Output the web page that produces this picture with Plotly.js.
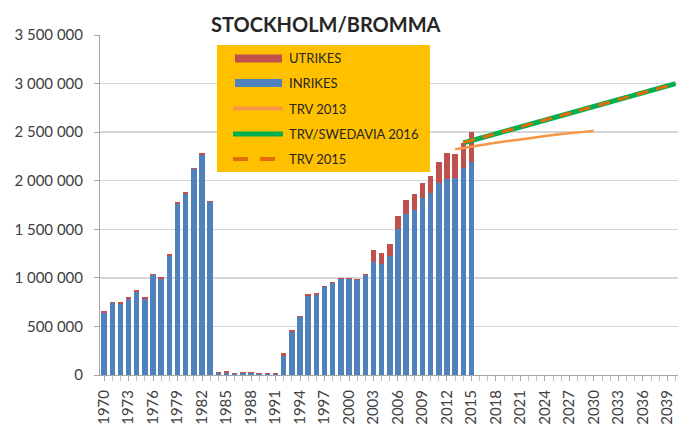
<!DOCTYPE html>
<html>
<head>
<meta charset="utf-8">
<script src="https://cdn.plot.ly/plotly-3.0.1.min.js"></script>
<style>html,body{margin:0;padding:0;background:#fff;}#chart{width:678px;height:426px;}</style>
</head>
<body>
<div id="chart"></div>
<script>
// ---- data ----
var years = [1970,1971,1972,1973,1974,1975,1976,1977,1978,1979,1980,1981,1982,1983,
  1984,1985,1986,1987,1988,1989,1990,1991,
  1992,1993,1994,1995,1996,1997,1998,1999,2000,2001,2002,
  2003,2004,2005,2006,2007,2008,2009,2010,2011,2012,2013,2014,2015];
var inrikes = [642000,742000,736000,787000,859000,787000,1029000,991000,1226000,1760000,1867000,2119000,2267000,1778000,
  20000,23000,11000,20000,20000,14000,14000,14000,
  192000,446000,597000,818000,828000,904000,942000,987000,987000,973000,1025000,
  1168000,1141000,1220000,1506000,1658000,1703000,1817000,1876000,1979000,2013000,2031000,2135000,2193000];
var utrikes = [12000,12000,14000,12000,12000,12000,15000,15000,18000,22000,15000,15000,15000,18000,
  14000,15000,10000,14000,14000,10000,10000,10000,
  30000,15000,12000,12000,12000,12000,12000,12000,12000,12000,15000,
  121000,120000,124000,128000,148000,158000,162000,172000,214000,277000,245000,251000,304000];

var trv2013Years = [2013,2014,2015,2016,2017,2018,2019,2020,2021,2022,2023,2024,2025,2026,2027,2028,2029,2030];
var trv2013 = [2323000,2338000,2350000,2365000,2378000,2390000,2405000,2415000,2425000,2438000,2450000,2460000,2470000,2480000,2490000,2500000,2506000,2513000];

var progYears = [2014,2015,2016,2017,2018,2019,2020,2021,2022,2023,2024,2025,2026,2027,2028,2029,2030,2031,2032,2033,2034,2035,2036,2037,2038,2039,2040];
var swedavia2016 = [2390000,2415000,2440000,2462000,2485000,2508000,2530000,2553000,2576000,2600000,2623000,2647000,2670000,2694000,2717000,2741000,2764000,2788000,2811000,2835000,2858000,2882000,2905000,2929000,2952000,2976000,3000000];
var trv2015 = [2392000,2415000,2440000,2462000,2485000,2508000,2530000,2553000,2576000,2600000,2623000,2647000,2670000,2694000,2717000,2741000,2764000,2788000,2811000,2835000,2858000,2882000,2905000,2929000,2952000,2976000,3000000];

var seriesNames = ["UTRIKES","INRIKES","TRV 2013","TRV/SWEDAVIA 2016","TRV 2015"];
var chartTitle = "STOCKHOLM/BROMMA";

// ---- styles ----
var cRed = "#C0504D", cBlue = "#4F81BD", cTrv13 = "#F79646", cGreen = "#00B050", cTrv15 = "#E46C0A";
var fontFam = "Lato, 'Open Sans', sans-serif";

var traces = [
  {type:"bar", x:years, y:inrikes, name:seriesNames[1], marker:{color:cBlue}, showlegend:false},
  {type:"bar", x:years, y:utrikes, name:seriesNames[0], marker:{color:cRed}, showlegend:false},
  {type:"scatter", mode:"lines", x:trv2013Years, y:trv2013, name:seriesNames[2], line:{color:cTrv13, width:2.5}, showlegend:false},
  {type:"scatter", mode:"lines", x:progYears, y:swedavia2016, name:seriesNames[3], line:{color:cGreen, width:5}, showlegend:false},
  {type:"scatter", mode:"lines", x:progYears, y:trv2015, name:seriesNames[4], line:{color:cTrv15, width:3, dash:"12px,8px"}, showlegend:false}
];

// plot area geometry (px) for the custom legend box
var L = 100, T = 35, W = 578, H = 340;
function px(x){ return (x - L) / W; }
function py(y){ return (T + H - y) / H; }

var rows = [58.5, 83, 108.5, 134, 159];
var shapes = [
  {type:"rect", xref:"paper", yref:"paper", x0:px(217), x1:px(430), y0:py(172), y1:py(45), fillcolor:"#FFC000", line:{width:0}, layer:"above"},
  {type:"line", xref:"paper", yref:"paper", x0:px(235), x1:px(282), y0:py(rows[0]), y1:py(rows[0]), line:{color:cRed, width:8}},
  {type:"line", xref:"paper", yref:"paper", x0:px(235), x1:px(282), y0:py(rows[1]), y1:py(rows[1]), line:{color:cBlue, width:8}},
  {type:"line", xref:"paper", yref:"paper", x0:px(233), x1:px(283), y0:py(rows[2]), y1:py(rows[2]), line:{color:cTrv13, width:4}},
  {type:"line", xref:"paper", yref:"paper", x0:px(233), x1:px(283), y0:py(rows[3]), y1:py(rows[3]), line:{color:cGreen, width:5}},
  {type:"line", xref:"paper", yref:"paper", x0:px(233), x1:px(283), y0:py(rows[4]), y1:py(rows[4]), line:{color:cTrv15, width:4, dash:"15px,12px"}}
];
var annotations = [
  {xref:"paper", yref:"paper", x:px(326), y:py(24), xanchor:"center", yanchor:"middle", showarrow:false,
   text:"<b>"+chartTitle+"</b>", font:{family:fontFam, size:20, color:"#262626"}, bgcolor:"#FFFFFF", borderpad:4}
];
var order = [0,1,2,3,4];
order.forEach(function(i){
  annotations.push({xref:"paper", yref:"paper", x:px(287), y:py(rows[i]), xanchor:"left", yanchor:"middle", showarrow:false,
    text:seriesNames[i], font:{family:fontFam, size:13, color:"#262626"}});
});

var layout = {
  width:678, height:426,
  margin:{l:L, r:0, t:T, b:51},
  paper_bgcolor:"#FFFFFF", plot_bgcolor:"#FFFFFF",
  barmode:"stack", bargap:0.33,
  separators:", ",
  showlegend:false,
  font:{family:fontFam, color:"#404040"},
  xaxis:{
    range:[1969.5, 2040.3], tick0:1970, dtick:3, tickangle:-90,
    ticks:"outside", ticklen:5, tickcolor:"#A6A6A6",
    minor:{dtick:1, ticks:"outside", ticklen:5, tickcolor:"#BFBFBF", showgrid:false},
    showgrid:false, zeroline:false, showline:true, linecolor:"#A6A6A6", linewidth:1,
    tickfont:{family:fontFam, size:15, color:"#404040"}, ticklabelstandoff:3,
    ticklabeloverflow:"allow"
  },
  yaxis:{
    range:[0, 3500000], dtick:500000, tickformat:",d",
    ticks:"outside", ticklen:5, tickcolor:"#A6A6A6",
    showgrid:true, gridcolor:"#D6D6D6", gridwidth:1.5,
    zeroline:false, showline:true, linecolor:"#A6A6A6", linewidth:1,
    tickfont:{family:fontFam, size:15, color:"#404040"}, ticklabelstandoff:8
  },
  shapes:shapes,
  annotations:annotations
};

Plotly.newPlot("chart", traces, layout, {displayModeBar:false, staticPlot:true});
</script>
</body>
</html>
